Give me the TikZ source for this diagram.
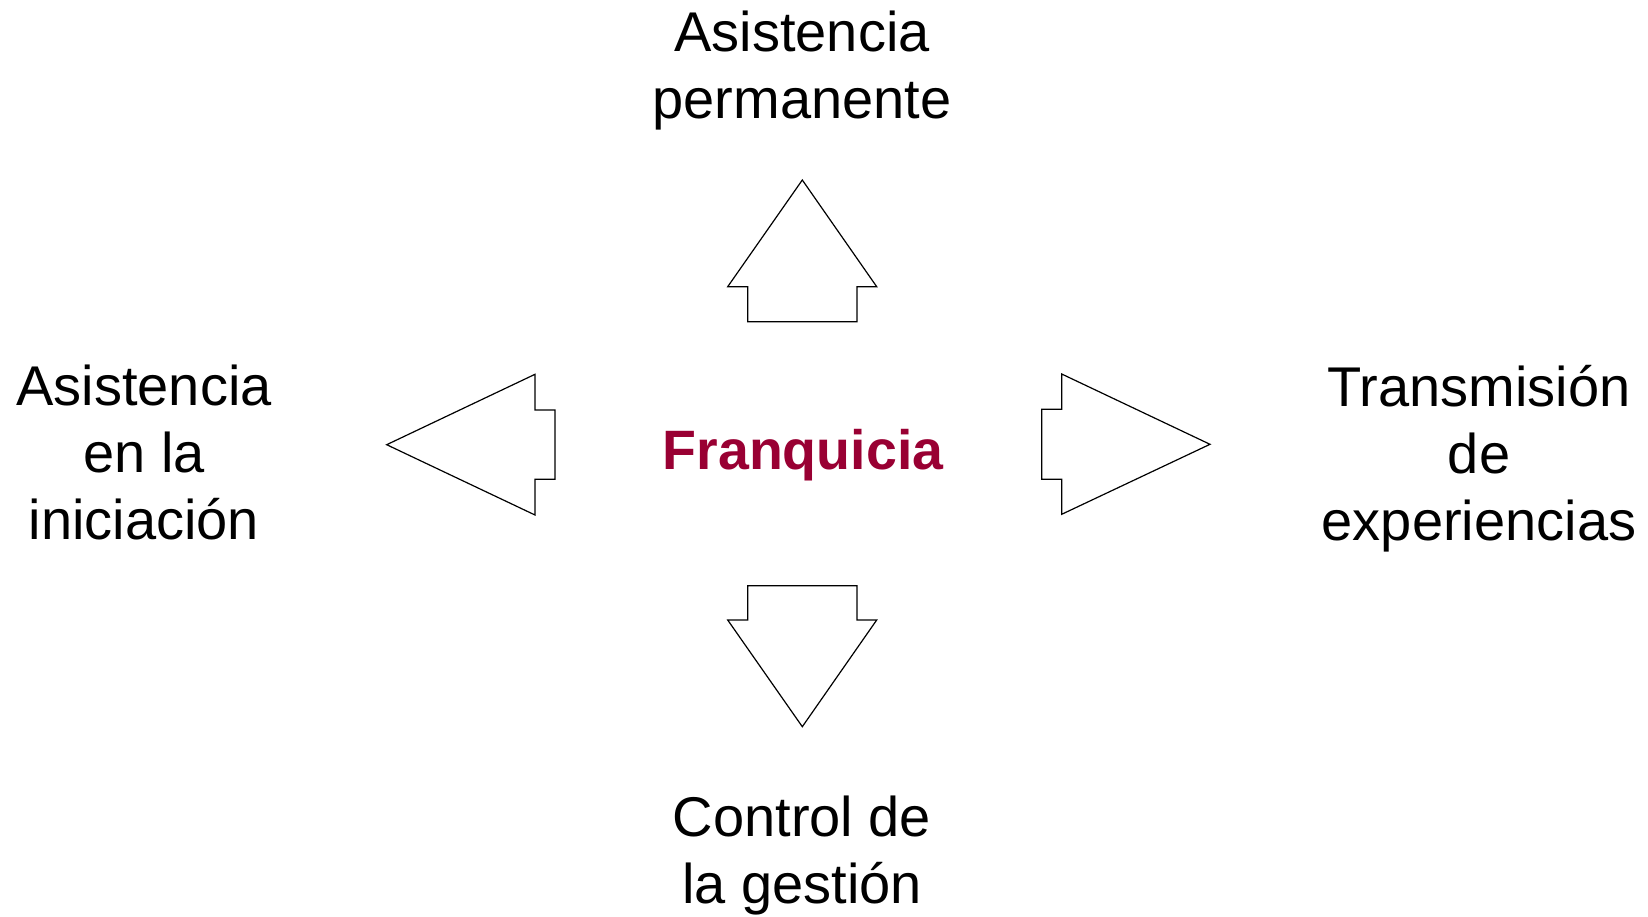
\documentclass[tikz,border=0pt]{standalone}
\usepackage{fontspec}
\setmainfont{Liberation Sans}
\definecolor{franq}{HTML}{990033}
\begin{document}
\begin{tikzpicture}[x=1pt,y=1pt,
  lbl/.style={inner sep=0pt, anchor=base, font=\fontsize{56}{67}\selectfont},
  arrowshape/.style={draw=black, line width=1.2pt, fill=white, line join=miter}]
\useasboundingbox (0,0) rectangle (1648,-917);
% arrows
\draw[arrowshape] (802.3,-180) -- (876.7,-286.7) -- (857,-286.7) -- (857,-321.7) -- (747.7,-321.7) -- (747.7,-286.7) -- (727.7,-286.7) -- cycle;
\draw[arrowshape] (386.7,-444.7) -- (535,-374.3) -- (535,-410) -- (555,-410) -- (555,-479.3) -- (535,-479.3) -- (535,-515) -- cycle;
\draw[arrowshape] (1210,-444.3) -- (1061.7,-374) -- (1061.7,-409.3) -- (1041.7,-409.3) -- (1041.7,-479.3) -- (1061.7,-479.3) -- (1061.7,-514.3) -- cycle;
\draw[arrowshape] (802.3,-726.7) -- (876.7,-620) -- (857,-620) -- (857,-585.7) -- (747.7,-585.7) -- (747.7,-620) -- (727.7,-620) -- cycle;
% texts
\node[lbl] (top) at (802,-52) {\begin{tabular}[t]{@{}c@{}}Asistencia\\permanente\end{tabular}};
\node[lbl] (left) at (144,-405.5) {\begin{tabular}[t]{@{}c@{}}Asistencia\\en la\\iniciación\end{tabular}};
\node[lbl] (right) at (1479,-406) {\begin{tabular}[t]{@{}c@{}}Transmisión\\de\\experiencias\end{tabular}};
\node[lbl] (bottom) at (802,-836) {\begin{tabular}[t]{@{}c@{}}Control de\\la gestión\end{tabular}};
\node[lbl, text=franq, font=\fontsize{55.5}{67}\selectfont\bfseries] (center) at (803,-469) {Franquicia};
\end{tikzpicture}
\end{document}
